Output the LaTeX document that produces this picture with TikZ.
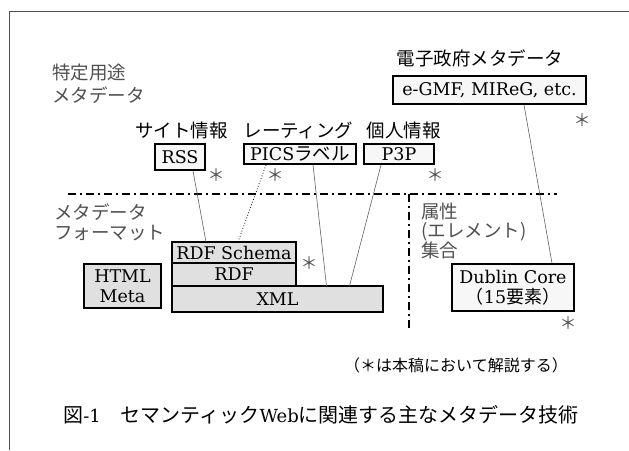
\documentclass[tikz,border=0pt]{standalone}
\usepackage{fontspec}
\newfontfamily\jp{Noto Sans CJK JP}
\newfontfamily\lat{DejaVu Serif}
\usetikzlibrary{positioning, calc}
\definecolor{labelgray}{HTML}{505050}
\definecolor{wirecol}{HTML}{606060}
\definecolor{appfill}{HTML}{F7F7F7}
\definecolor{fmtfill}{HTML}{E0E0E0}
\tikzset{
    dashdot/.style={line width=2pt, dash pattern=on 8pt off 4pt on 2pt off 4pt},
}

\begin{document}
\begin{tikzpicture}
            [x=1pt, y=-1pt, semithick,
            appbox/.style={rectangle, draw=black, line width=1.8pt, fill=appfill,
                inner sep=0pt, align=center, font=\lat\fontsize{17.5}{20}\selectfont},
            fmtbox/.style={appbox, fill=fmtfill, outer sep=0pt},
            headlabel/.style={font=\jp\fontsize{18.5}{22}\selectfont, inner sep=0pt},
            grouplabel/.style={headlabel, text=labelgray, align=left, anchor=west},
            astnote/.style={font=\jp\fontsize{17}{17}\selectfont, text=labelgray, inner sep=0pt},
            wire/.style={draw=wirecol, line width=0.6pt}]

            \useasboundingbox (0,0) rectangle (629,450);
            \draw[line width=0.8pt, labelgray] (9,450) -- (9,11) -- (629,11);

            % dividers
            \draw[dashdot] (68,194) -- (557,194);
            \draw[dashdot] (409,194) -- (409,330);

            % group labels
            \node[grouplabel, font=\jp\fontsize{18.5}{23}\selectfont] (gapp) at (52,83.5) {特定用途\\メタデータ};
            \node[grouplabel, font=\jp\fontsize{18.5}{20}\selectfont] (gfmt) at (54,222) {メタデータ\\フォーマット};
            \node[grouplabel, font=\jp\fontsize{18.5}{19}\selectfont] (gattr) at (421,231) {属性\\(エレメント)\\集合};

            % application metadata
            \node[headlabel] (hgov) at (480,58) {電子政府メタデータ};
            \node[appbox, minimum width=193, minimum height=28] (egmf) at (489.5,90) {e-GMF, MIReG, etc.};
            \node[headlabel] (hsite) at (181.5,130) {サイト情報};
            \node[headlabel] (hrate) at (298.5,130) {レーティング};
            \node[headlabel] (hpriv) at (403.5,130) {個人情報};
            \node[appbox, minimum width=50, minimum height=26] (rss) at (180,157) {RSS};
            \node[appbox, minimum width=112, minimum height=20] (pics) at (300,154) {PICS{\jp\fontsize{18.5}{20}\selectfont ラベル}};
            \node[appbox, minimum width=70, minimum height=20] (p3p) at (399,154) {P3P};

            % formats
            \node[fmtbox, minimum width=124, minimum height=21] (rdfs) at (234,252.5) {RDF Schema};
            \node[fmtbox, minimum width=124, minimum height=23] (rdf) [below=0pt of rdfs] {RDF};
            \node[fmtbox, minimum width=211, minimum height=26, anchor=north west] (xml) at (rdf.south west) {XML};
            \node[fmtbox, minimum width=77, minimum height=44] (html) at (122.5,286) {HTML\\Meta};

            % element set
            \node[appbox, minimum width=122, minimum height=47] (dc) at (513,287.5)
                {Dublin Core\\{\jp\fontsize{18}{20}\selectfont （}15{\jp\fontsize{18}{20}\selectfont 要素）}};

            % asterisks
            \node[astnote] (arss) at (216,175) {＊};
            \node[astnote] (apics) at (275,175) {＊};
            \node[astnote] (ap3p) at (435,175) {＊};
            \node[astnote] (agov) at (582,120) {＊};
            \node[astnote] (ardfs) at (309,263) {＊};
            \node[astnote] (adc) at (568,323) {＊};

            % links
            \draw[wire] ([xshift=13pt]rss.south) -- ([xshift=-28pt]rdfs.north);
            \draw[dotted, line width=0.8pt] ([xshift=-34pt]pics.south) -- ([xshift=4pt]rdfs.north);
            \draw[wire] ([xshift=13pt]pics.south) -- ([xshift=49pt]xml.north);
            \draw[wire] ([xshift=-18pt]p3p.south) -- ([xshift=72pt]xml.north);
            \draw[wire] ([xshift=34.5pt]egmf.south) -- ([xshift=39pt]dc.north);

            % notes
            \node[font=\jp\fontsize{16}{16}\selectfont, inner sep=0pt] (note) at (456,365) {（＊は本稿において解説する）};
            \node[anchor=west, inner sep=0pt, font=\jp\fontsize{20}{20}\selectfont] (caption) at (63,415)
                {図{\lat\fontsize{18}{18}\selectfont -1}　セマンティック{\lat\fontsize{18}{18}\selectfont Web}に関連する主なメタデータ技術};
        \end{tikzpicture}
\end{document}
